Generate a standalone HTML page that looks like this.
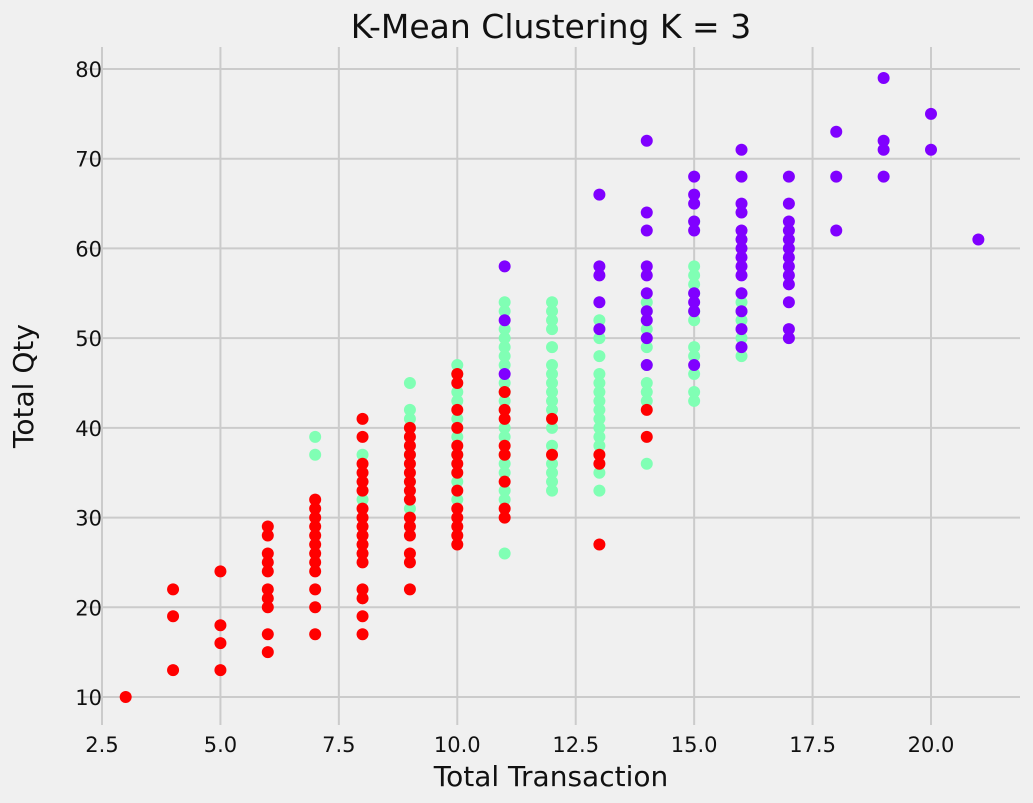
<!DOCTYPE html>
<html><head><meta charset="utf-8"><style>
body{margin:0;background:#f0f0f0;}
svg{display:block;font-family:"DejaVu Sans","Liberation Sans",sans-serif;}
</style></head><body>
<svg id="chart" width="1033" height="803">
<rect width="1033" height="803" fill="#f0f0f0"/>
<g id="grid"></g>
<g id="ticks"></g>
<g id="points"></g>
<text x="551" y="38" text-anchor="middle" font-size="33" fill="#111">K-Mean Clustering K = 3</text>
<text x="551" y="786" text-anchor="middle" font-size="28" fill="#111">Total Transaction</text>
<text x="33" y="386" text-anchor="middle" font-size="28" fill="#111" transform="rotate(-90 33 386)">Total Qty</text>
</svg>
<script>
const xTicks=[2.5,5.0,7.5,10.0,12.5,15.0,17.5,20.0];
const yTicks=[10,20,30,40,50,60,70,80];
const redData=[[3,[10]],[4,[22,19,13]],[5,[24,18,16,13]],[6,[29,28,26,25,24,22,21,20,17,15]],[7,[32,31,30,29,28,27,26,25,24,22,20,17]],[8,[41,39,36,35,34,33,31,30,29,28,27,26,25,22,21,19,17]],[9,[40,39,38,37,36,35,34,33,32,30,29,28,26,25,22]],[10,[46,45,42,40,38,37,36,35,33,31,30,29,28,27]],[11,[44,42,41,38,37,34,31,30]],[12,[41,37]],[13,[37,36,27]],[14,[42,39]]];
const greenData=[[7,[39,37]],[8,[37,32]],[9,[45,42,41,40,37,34,31]],[10,[47,46,44,43,41,40,39,37,34,32]],[11,[54,53,51,50,49,48,47,45,44,43,42,40,39,37,36,35,33,32,26]],[12,[54,53,52,51,49,47,46,45,44,43,42,40,38,36,35,34,33]],[13,[52,51,50,48,46,45,44,43,42,41,40,39,38,35,33]],[14,[54,53,51,49,47,45,44,43,36]],[15,[63,58,57,56,55,53,52,49,48,46,44,43]],[16,[54,53,52,50,48]]];
const purpleData=[[11,[58,52,46]],[13,[66,58,57,54,51]],[14,[72,64,62,58,57,55,53,52,50,47]],[15,[68,66,65,63,62,55,54,53,47]],[16,[71,68,65,64,62,61,60,59,58,57,55,53,51,49]],[17,[68,65,63,62,61,60,59,58,57,56,54,51,50]],[18,[73,68,62]],[19,[79,72,71,68]],[20,[75,71]],[21,[61]]];
const NS="http://www.w3.org/2000/svg";
const L=83,R=1020,T=47,B=725;
const xs=v=>102+(v-2.5)*(931-102)/17.5;
const ys=v=>697-(v-10)*(697-69)/70;
const grid=document.getElementById('grid'),ticks=document.getElementById('ticks'),pts=document.getElementById('points');
function mk(t,a,p){const e=document.createElementNS(NS,t);for(const k in a)e.setAttribute(k,a[k]);p.appendChild(e);return e;}
xTicks.forEach(v=>{
 const l=mk('line',{x1:xs(v),x2:xs(v),y1:T,y2:B,stroke:'#cbcbcb','stroke-width':2},grid);
 
 
 const t=mk('text',{x:xs(v),y:752,'text-anchor':'middle','font-size':21,fill:'#111'},ticks);
 t.textContent=v.toFixed(1);
 
 
});
yTicks.forEach(v=>{
 const l=mk('line',{x1:L,x2:R,y1:ys(v),y2:ys(v),stroke:'#cbcbcb','stroke-width':2},grid);
 
 
 const t=mk('text',{x:102,y:ys(v)+8,'text-anchor':'end','font-size':21,fill:'#111'},ticks);
 t.textContent=v;
 
 
});
function draw(data,color,name){
 data.forEach(([x,ysv])=>ysv.forEach(y=>{
  const c=mk('circle',{cx:xs(x),cy:ys(y),r:6,fill:color},pts);
  
  
 }));
}
draw(greenData,'#80ffb4','cluster-1-point');
draw(redData,'#ff0000','cluster-2-point');
draw(purpleData,'#8000ff','cluster-0-point');
</script>
</body></html>
